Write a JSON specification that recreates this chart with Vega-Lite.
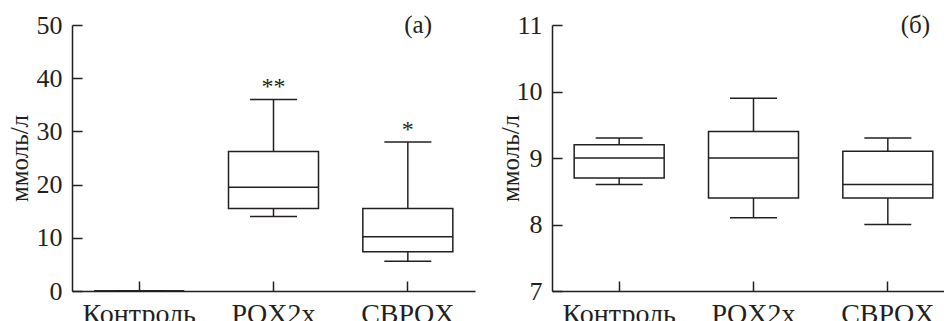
{
  "$schema": "https://vega.github.io/schema/vega-lite/v6.json",
  "background": "white",
  "autosize": {"type": "pad"},
  "padding": {"left": 7, "top": 12, "right": 0, "bottom": 0},
  "config": {
    "font": "Liberation Serif",
    "view": {"stroke": null},
    "title": {"font": "Liberation Serif", "fontSize": 25, "fontWeight": "normal", "color": "#231f20", "anchor": "end", "offset": 0, "baseline": "alphabetic"}
  },
  "bounds": "flush",
  "spacing": 77,
  "datasets": {
    "a": [
      {"group": "Контроль", "min": 0, "q1": 0, "median": 0, "q3": 0, "max": 0},
      {"group": "POX2x", "min": 14, "q1": 15.5, "median": 19.5, "q3": 26.2, "max": 36},
      {"group": "CBPOX", "min": 5.6, "q1": 7.4, "median": 10.2, "q3": 15.5, "max": 28}
    ],
    "starsA": [
      {"group": "POX2x", "y": 38.4, "label": "**"},
      {"group": "CBPOX", "y": 30.2, "label": "*"}
    ],
    "b": [
      {"group": "Контроль", "min": 8.6, "q1": 8.7, "median": 9.0, "q3": 9.2, "max": 9.3},
      {"group": "POX2x", "min": 8.1, "q1": 8.4, "median": 9.0, "q3": 9.4, "max": 9.9},
      {"group": "CBPOX", "min": 8.0, "q1": 8.4, "median": 8.6, "q3": 9.1, "max": 9.3}
    ]
  },
  "hconcat": [
    {
      "width": 403, "height": 266,
      "title": {"text": "(a)", "dx": -43, "dy": 30},
      "data": {"name": "a"},
      "encoding": {
        "x": {"field": "group", "type": "nominal", "sort": ["Контроль", "POX2x", "CBPOX"],
              "scale": {"paddingInner": 0, "paddingOuter": 0},
              "axis": {"title": null, "labelAngle": 0, "grid": false,
                       "domainColor": "#231f20", "domainWidth": 1.5,
                       "tickColor": "#231f20", "tickWidth": 1.5, "tickSize": -10,
                       "labelFont": "Liberation Serif", "labelFontSize": 28, "labelColor": "#231f20", "labelPadding": 19}}
      },
      "layer": [
        {"mark": {"type": "rule", "color": "#231f20", "strokeWidth": 1.5},
         "encoding": {"y": {"field": "min", "type": "quantitative", "title": "ммоль/л",
                            "scale": {"domain": [0, 50], "nice": false},
                            "axis": {"values": [0, 10, 20, 30, 40, 50], "format": "d", "grid": false,
                                     "domainColor": "#231f20", "domainWidth": 1.5,
                                     "tickColor": "#231f20", "tickWidth": 1.5, "tickSize": -10,
                                     "labelFont": "Liberation Serif", "labelFontSize": 26, "labelColor": "#231f20", "labelPadding": 20,
                                     "titleFont": "Liberation Serif", "titleFontSize": 25, "titleFontWeight": "normal", "titleColor": "#231f20", "titlePadding": 4}},
                      "y2": {"field": "q1"}}},
        {"mark": {"type": "rule", "color": "#231f20", "strokeWidth": 1.5},
         "encoding": {"y": {"field": "q3", "type": "quantitative", "title": "ммоль/л"}, "y2": {"field": "max"}}},
        {"mark": {"type": "tick", "size": 47, "thickness": 1.5, "color": "#231f20", "opacity": 1},
         "encoding": {"y": {"field": "min", "type": "quantitative", "title": "ммоль/л"}}},
        {"mark": {"type": "tick", "size": 47, "thickness": 1.5, "color": "#231f20", "opacity": 1},
         "encoding": {"y": {"field": "max", "type": "quantitative", "title": "ммоль/л"}}},
        {"mark": {"type": "bar", "width": 90, "fill": "white", "stroke": "#231f20", "strokeWidth": 1.5},
         "encoding": {"y": {"field": "q1", "type": "quantitative", "title": "ммоль/л"}, "y2": {"field": "q3"}}},
        {"mark": {"type": "tick", "size": 90, "thickness": 1.5, "color": "#231f20", "opacity": 1},
         "encoding": {"y": {"field": "median", "type": "quantitative", "title": "ммоль/л"}}},
        {"data": {"name": "starsA"},
         "mark": {"type": "text", "fontSize": 24, "baseline": "middle", "color": "#231f20", "font": "Liberation Serif"},
         "encoding": {"y": {"field": "y", "type": "quantitative", "title": "ммоль/л"}, "text": {"field": "label"}}}
      ]
    },
    {
      "width": 403, "height": 266,
      "title": {"text": "(б)", "dx": -25, "dy": 30},
      "data": {"name": "b"},
      "encoding": {
        "x": {"field": "group", "type": "nominal", "sort": ["Контроль", "POX2x", "CBPOX"],
              "scale": {"paddingInner": 0, "paddingOuter": 0},
              "axis": {"title": null, "labelAngle": 0, "grid": false,
                       "domainColor": "#231f20", "domainWidth": 1.5,
                       "tickColor": "#231f20", "tickWidth": 1.5, "tickSize": -10,
                       "labelFont": "Liberation Serif", "labelFontSize": 28, "labelColor": "#231f20", "labelPadding": 19}}
      },
      "layer": [
        {"mark": {"type": "rule", "color": "#231f20", "strokeWidth": 1.5},
         "encoding": {"y": {"field": "min", "type": "quantitative", "title": "ммоль/л",
                            "scale": {"domain": [7, 11], "nice": false},
                            "axis": {"values": [7, 8, 9, 10, 11], "format": "d", "grid": false,
                                     "domainColor": "#231f20", "domainWidth": 1.5,
                                     "tickColor": "#231f20", "tickWidth": 1.5, "tickSize": -10,
                                     "labelFont": "Liberation Serif", "labelFontSize": 26, "labelColor": "#231f20", "labelPadding": 20,
                                     "titleFont": "Liberation Serif", "titleFontSize": 25, "titleFontWeight": "normal", "titleColor": "#231f20", "titlePadding": -7}},
                      "y2": {"field": "q1"}}},
        {"mark": {"type": "rule", "color": "#231f20", "strokeWidth": 1.5},
         "encoding": {"y": {"field": "q3", "type": "quantitative", "title": "ммоль/л"}, "y2": {"field": "max"}}},
        {"mark": {"type": "tick", "size": 47, "thickness": 1.5, "color": "#231f20", "opacity": 1},
         "encoding": {"y": {"field": "min", "type": "quantitative", "title": "ммоль/л"}}},
        {"mark": {"type": "tick", "size": 47, "thickness": 1.5, "color": "#231f20", "opacity": 1},
         "encoding": {"y": {"field": "max", "type": "quantitative", "title": "ммоль/л"}}},
        {"mark": {"type": "bar", "width": 90, "fill": "white", "stroke": "#231f20", "strokeWidth": 1.5},
         "encoding": {"y": {"field": "q1", "type": "quantitative", "title": "ммоль/л"}, "y2": {"field": "q3"}}},
        {"mark": {"type": "tick", "size": 90, "thickness": 1.5, "color": "#231f20", "opacity": 1},
         "encoding": {"y": {"field": "median", "type": "quantitative", "title": "ммоль/л"}}}
      ]
    }
  ]
}
